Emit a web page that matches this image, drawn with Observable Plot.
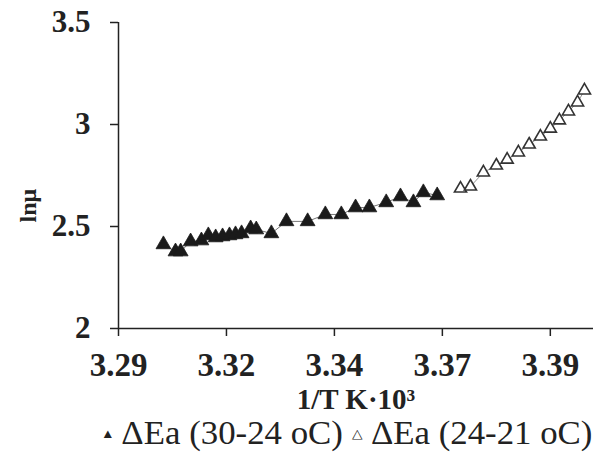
<!DOCTYPE html>
<html>
<head>
<meta charset="utf-8">
<script src="https://cdn.jsdelivr.net/npm/d3@7"></script>
<script src="https://cdn.jsdelivr.net/npm/@observablehq/plot@0.6"></script>
<style>
  html, body { margin: 0; padding: 0; background: #fff; }
  #chart { position: relative; width: 593px; height: 452px; overflow: hidden; }
  #legend {
    position: absolute; left: 101px; top: 416px; white-space: nowrap; line-height: 34px;
    font-family: "Liberation Serif", "Times New Roman", serif; font-size: 33px; color: #222;
    transform: scaleX(1.055); transform-origin: left center;
  }
  #legend .sym { font-size: 13px; vertical-align: 6px; }
</style>
</head>
<body>
<div id="chart"><div id="legend"><span class="sym">▲</span> ΔEa (30-24 oC) <span class="sym">△</span> ΔEa (24-21 oC)</div></div>
<script>
// Viscosity vs inverse temperature (Arrhenius plot), two temperature ranges
const xHigh = [3.3004, 3.3032, 3.3044, 3.3067, 3.3092, 3.3108, 3.3125, 3.3141, 3.3157, 3.3171,
               3.3185, 3.3206, 3.3219, 3.3254, 3.3289, 3.3338, 3.3379, 3.3416, 3.3449, 3.3481,
               3.3520, 3.3553, 3.3583, 3.3606, 3.3638];
const lnMuHigh = [2.412, 2.377, 2.377, 2.426, 2.431, 2.456, 2.446, 2.451, 2.456, 2.461,
                  2.466, 2.490, 2.485, 2.466, 2.525, 2.525, 2.559, 2.559, 2.593, 2.593,
                  2.618, 2.647, 2.618, 2.667, 2.652];
const xLow = [3.3692, 3.3715, 3.3745, 3.3775, 3.3800, 3.3826, 3.3851, 3.3877, 3.3900, 3.3921,
              3.3942, 3.3963, 3.3979];
const lnMuLow = [2.686, 2.696, 2.765, 2.799, 2.828, 2.863, 2.902, 2.941, 2.980, 3.020,
                 3.064, 3.108, 3.167];

const xTicks = [3.29, 3.315, 3.34, 3.365, 3.39];
const xTickLabels = ["3.29", "3.32", "3.34", "3.37", "3.39"];
const yTicks = [2, 2.5, 3, 3.5];
const yTickLabels = ["2", "2.5", "3", "3.5"];

const high = xHigh.map((x, i) => ({x, y: lnMuHigh[i]}));
const low = xLow.map((x, i) => ({x, y: lnMuLow[i]}));
const xLabel = new Map(xTicks.map((t, i) => [t, xTickLabels[i]]));
const yLabel = new Map(yTicks.map((t, i) => [t, yTickLabels[i]]));

const ink = "#222";
const plot = Plot.plot({
  width: 593,
  height: 422,
  marginTop: 22,
  marginLeft: 118,
  marginRight: 0,
  marginBottom: 94,
  style: {fontFamily: "'Liberation Serif', 'Times New Roman', serif", background: "#fff", color: ink},
  x: {domain: [3.29, 3.40]},
  y: {domain: [2, 3.5]},
  marks: [
    Plot.axisY(yTicks, {tickSize: 8, tickPadding: 20, fontSize: 31, fontWeight: "bold",
      tickFormat: d => yLabel.get(d), label: null, stroke: ink, strokeWidth: 1.5}),
    Plot.axisX(xTicks, {tickSize: 8, tickPadding: 16, fontSize: 33, fontWeight: "bold",
      tickFormat: d => xLabel.get(d), label: null, stroke: ink, strokeWidth: 1.5}),
    Plot.ruleX([3.29], {stroke: ink, strokeWidth: 1.5}),
    Plot.ruleY([2], {stroke: ink, strokeWidth: 1.5}),
    Plot.line(high, {x: "x", y: "y", stroke: "#555", strokeWidth: 0.8}),
    Plot.line(low, {x: "x", y: "y", stroke: "#777", strokeWidth: 0.8}),
    Plot.dot(high, {x: "x", y: "y", symbol: "triangle", r: 5.5, fill: "#1a1a1a", stroke: "#1a1a1a", strokeWidth: 0.8}),
    Plot.dot(low, {x: "x", y: "y", symbol: "triangle", r: 4.5, fill: "#fff", stroke: "#333", strokeWidth: 1.6}),
    Plot.text(["lnμ"], {frameAnchor: "left", dx: -90, dy: 47, rotate: -90, fontSize: 24, fontWeight: "bold", fill: ink}),
    Plot.text(["1/T K·10³"], {frameAnchor: "bottom", dy: 80, fontSize: 29, fontWeight: "bold", fill: ink})
  ]
});
plot.style.position = "absolute";
plot.style.left = "0px";
plot.style.top = "0px";
document.getElementById("chart").prepend(plot);
</script>
</body>
</html>
